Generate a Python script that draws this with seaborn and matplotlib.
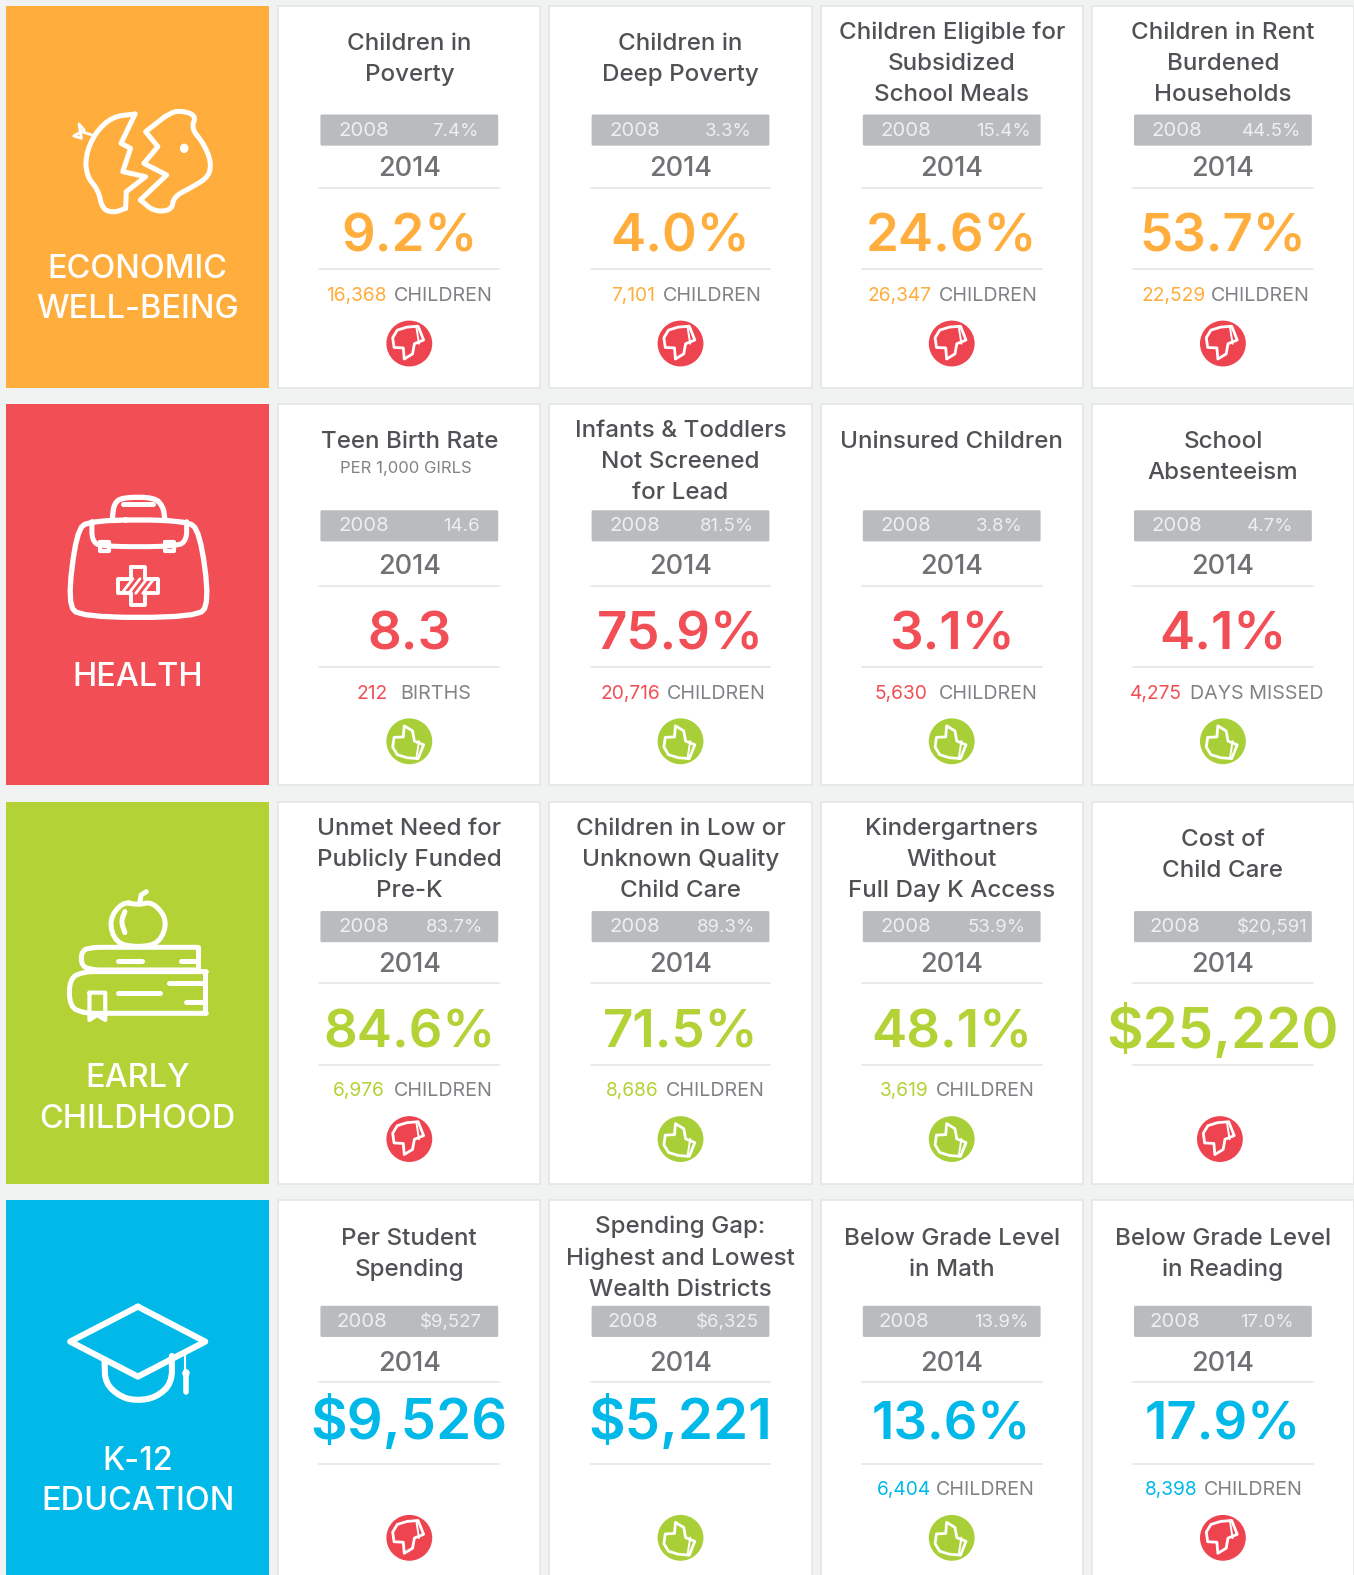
import matplotlib
matplotlib.use("Agg")
import matplotlib.pyplot as plt
from matplotlib.patches import Rectangle, FancyBboxPatch, Polygon, Ellipse
import pandas as pd
import seaborn as sns

####### values, one row per topic

tile_labels = [["ECONOMIC", "WELL-BEING"], ["HEALTH"], ["EARLY", "CHILDHOOD"], ["K-12", "EDUCATION"]]
tile_colors = ["#FFAD3C", "#F14E56", "#B2D235", "#00B9E8"]

card_titles = [
    [["Children in", "Poverty"], ["Children in", "Deep Poverty"],
     ["Children Eligible for", "Subsidized", "School Meals"], ["Children in Rent", "Burdened", "Households"]],
    [["Teen Birth Rate"], ["Infants & Toddlers", "Not Screened", "for Lead"],
     ["Uninsured Children"], ["School", "Absenteeism"]],
    [["Unmet Need for", "Publicly Funded", "Pre-K"], ["Children in Low or", "Unknown Quality", "Child Care"],
     ["Kindergartners", "Without", "Full Day K Access"], ["Cost of", "Child Care"]],
    [["Per Student", "Spending"], ["Spending Gap:", "Highest and Lowest", "Wealth Districts"],
     ["Below Grade Level", "in Math"], ["Below Grade Level", "in Reading"]],
]

values_2008 = [
    ["7.4%", "3.3%", "15.4%", "44.5%"],
    ["14.6", "81.5%", "3.8%", "4.7%"],
    ["83.7%", "89.3%", "53.9%", "$20,591"],
    ["$9,527", "$6,325", "13.9%", "17.0%"],
]
values_2014 = [
    ["9.2%", "4.0%", "24.6%", "53.7%"],
    ["8.3", "75.9%", "3.1%", "4.1%"],
    ["84.6%", "71.5%", "48.1%", "$25,220"],
    ["$9,526", "$5,221", "13.6%", "17.9%"],
]
count_numbers = [
    ["16,368", "7,101", "26,347", "22,529"],
    ["212", "20,716", "5,630", "4,275"],
    ["6,976", "8,686", "3,619", ""],
    ["", "", "6,404", "8,398"],
]
count_labels = [
    ["CHILDREN", "CHILDREN", "CHILDREN", "CHILDREN"],
    ["BIRTHS", "CHILDREN", "CHILDREN", "DAYS MISSED"],
    ["CHILDREN", "CHILDREN", "CHILDREN", ""],
    ["", "", "CHILDREN", "CHILDREN"],
]
verdicts = [
    ["down", "down", "down", "down"],
    ["up", "up", "up", "up"],
    ["down", "up", "up", "down"],
    ["down", "up", "up", "down"],
]

####### layout, in pixels of the picture

row_tops = [6, 402, 798, 1195]
row_bottoms = [386, 782, 1179, 1600]
card_lefts = [277, 547, 817, 1087]
card_w = 261
tile_left, tile_w = 6, 262
bar_offsets = [108, 106, 109, 105]
big_baselines = [244, 245, 245, 238]
count_num_x = [[48, 61, 47, 49], [78, 51, 54, 38], [54, 56, 59, 0], [0, 0, 56, 53]]
count_lab_x = [[115, 113, 118, 119], [121, 117, 118, 98], [115, 116, 115, 0], [0, 0, 115, 112]]
val_right_x = [[200, 201, 209, 208], [201, 204, 201, 201], [204, 205, 204, 215], [203, 208, 207, 201]]
tile_text_y = [[259, 299], [269], [273, 313], [257, 297]]

sns.set_theme(style="white")
plt.rcParams["font.family"] = ["Inter", "Lato", "DejaVu Sans"]

BG = "#F1F2F2"
TITLE = "#4F5154"
GREY = "#6F7174"
LABEL = "#808285"
BAR = "#B9BBBE"
RULE = "#E4E5E6"
THUMB = {"up": "#A9CF38", "down": "#EE4450"}

fig = plt.figure(figsize=(13.54, 15.75), dpi=100, facecolor=BG)
ax = fig.add_axes([0, 0, 1, 1])
ax.set_xlim(0, 1348)
ax.set_ylim(1568, 0)
ax.set_facecolor(BG)
ax.axis("off")


def line(xs, ys, lw=3.0, color="white", z=4):
    ax.plot(xs, ys, color=color, lw=lw, solid_capstyle="round", solid_joinstyle="round", zorder=z)


def smooth(pts, n=2, closed=False):
    # corner cutting so the icons do not look like polygons
    for _ in range(n):
        new = []
        m = len(pts) if closed else len(pts) - 1
        for i in range(m):
            a, b = pts[i], pts[(i + 1) % len(pts)]
            new.append((0.75 * a[0] + 0.25 * b[0], 0.75 * a[1] + 0.25 * b[1]))
            new.append((0.25 * a[0] + 0.75 * b[0], 0.25 * a[1] + 0.75 * b[1]))
        if not closed:
            new = [pts[0]] + new + [pts[-1]]
        pts = new
    return pts + [pts[0]] if closed else pts


def icon_line(pts, yoff, lw=3.6, soft=False, closed=False):
    if soft:
        pts = smooth(pts, closed=closed)
    elif closed:
        pts = pts + [pts[0]]
    line([p[0] / 2.863 for p in pts], [p[1] / 3.0135 + yoff for p in pts], lw=lw)


def piggy():
    y0 = 0
    icon_line([(385, 342), (320, 350), (270, 400), (243, 470), (248, 530), (280, 570), (292, 628),
               (325, 638), (358, 625)], y0, soft=True)
    icon_line([(385, 342), (345, 430), (372, 445), (350, 515), (415, 530), (360, 575), (358, 625)], y0)
    icon_line([(470, 350), (505, 330), (560, 345), (545, 385), (580, 430), (602, 485), (595, 530),
               (550, 560), (495, 590), (490, 630), (440, 635), (400, 600)], y0, soft=True)
    icon_line([(470, 350), (415, 395), (450, 440), (410, 490), (475, 525), (400, 600)], y0)
    icon_line([(262, 405), (232, 395), (210, 408), (232, 415), (225, 372), (240, 390)], y0, lw=2.0)
    ax.add_patch(Ellipse((525 / 2.863, 445 / 3.0135), 7, 8, color="white", zorder=4))


def bag():
    y0 = 400 / 1.0045
    icon_line([(255, 360), (530, 360), (570, 395), (597, 610), (560, 652), (230, 652), (193, 610),
               (218, 395)], y0, lw=3.8, soft=True, closed=True)
    icon_line([(320, 358), (325, 310), (350, 292), (440, 292), (465, 320), (470, 358)], y0, lw=3.8, soft=True)
    icon_line([(350, 312), (435, 312)], y0)
    icon_line([(262, 365), (262, 420), (285, 440), (505, 440), (532, 420), (532, 365)], y0, lw=3.6, soft=True)
    for cx in [298, 483]:
        icon_line([(cx - 14, 426), (cx + 14, 426), (cx + 14, 454), (cx - 14, 454)], y0, lw=3.0, closed=True)
    cx, cy, a, b = 393, 558, 20, 58
    icon_line([(cx - a, cy - b), (cx + a, cy - b), (cx + a, cy - a), (cx + b, cy - a), (cx + b, cy + a),
               (cx + a, cy + a), (cx + a, cy + b), (cx - a, cy + b), (cx - a, cy + a), (cx - b, cy + a),
               (cx - b, cy - a), (cx - a, cy - a)], y0, lw=2.8, closed=True)
    for d in [-30, -10, 10, 30]:
        icon_line([(cx + d - 16, cy + 22), (cx + d + 16, cy - 22)], y0, lw=2.0)


def books():
    y0 = 800 / 1.0045
    icon_line([(350, 305), (393, 315), (435, 305), (478, 360), (455, 430), (393, 442), (330, 430),
               (310, 360)], y0, lw=3.6, soft=True, closed=True)
    icon_line([(398, 312), (402, 285), (417, 275)], y0)
    icon_line([(356, 335), (345, 365), (356, 398)], y0, soft=True)
    icon_line([(563, 442), (300, 442), (270, 442), (232, 450), (232, 500), (270, 510), (300, 510), (563, 510)], y0, lw=3.6, soft=True)
    icon_line([(563, 442), (563, 510)], y0, lw=3.6)
    icon_line([(588, 515), (300, 515), (240, 515), (198, 535), (198, 620), (240, 640), (300, 640), (588, 640)], y0, lw=3.6, soft=True)
    icon_line([(583, 515), (583, 640)], y0, lw=3.6)
    icon_line([(335, 482), (405, 482)], y0)
    icon_line([(515, 482), (560, 482)], y0)
    icon_line([(335, 578), (455, 578)], y0)
    icon_line([(482, 550), (583, 550)], y0)
    icon_line([(530, 605), (583, 605)], y0)
    icon_line([(255, 578), (255, 660), (277, 645), (300, 660), (300, 578), (255, 578)], y0, lw=3.0)


def cap():
    y0 = 1190 / 1.0045
    icon_line([(393, 350), (585, 455), (393, 560), (200, 455)], y0, lw=4.4, closed=True)
    icon_line([(298, 515), (300, 580), (345, 622), (393, 632), (445, 622), (490, 580), (490, 498)], y0, lw=4.4, soft=True)
    icon_line([(528, 490), (528, 550)], y0, lw=1.5)
    icon_line([(530, 555), (530, 605)], y0, lw=4.0)
    ax.add_patch(Ellipse((530 / 2.863, 550 / 3.0135 + y0), 6, 7, color="white", zorder=4))


def thumb(cx, cy, kind):
    # the hand is the same shape, flipped up or down
    hand = [(-.52, -.45), (-.10, -.58), (.38, -.62), (.62, -.02), (.22, .14), (.14, .58), (-.22, .80),
            (-.26, .32), (-.66, .30), (-.72, -.12)]
    sign = 1 if kind == "down" else -1
    r = 23.0
    pts = [(cx + p[0] * r, cy + sign * p[1] * r + (-3 if kind == "down" else 3)) for p in hand]
    ax.add_patch(Polygon(pts, closed=True, facecolor=THUMB[kind], edgecolor="white", lw=2.0,
                         joinstyle="round", zorder=6))
    line([cx + .30 * r, cx + .42 * r], [pts[2][1], pts[4][1]], lw=1.4, z=7)


for r, top in enumerate(row_tops):
    bottom = row_bottoms[r]
    ax.add_patch(Rectangle((tile_left, top), tile_w, bottom - top, facecolor=tile_colors[r], edgecolor="none", zorder=1))
    for label, dy in zip(tile_labels[r], tile_text_y[r]):
        ax.text(137, top + dy + 11.5, label, color="white", fontsize=23.4, weight=500, ha="center", va="baseline", zorder=4)

    for c, left in enumerate(card_lefts):
        cx = left + card_w / 2
        ax.add_patch(Rectangle((left, top), card_w, bottom - top, facecolor="white", edgecolor="#E4E5E6", lw=1.2, zorder=1))

        lines = card_titles[r][c]
        ty = top + (24.5 if len(lines) == 3 else 35.5)
        for i, txt in enumerate(lines):
            ax.text(cx, ty + 31 * i + 8.5, txt, color=TITLE, fontsize=17.4, weight=500, ha="center", va="baseline", zorder=3)
        if r == 1 and c == 0:
            ax.text(cx - 3, top + 69, "PER 1,000 GIRLS", color=LABEL, fontsize=12, ha="center", va="baseline", zorder=3)

        by = top + bar_offsets[r]
        ax.add_patch(FancyBboxPatch((left + 42, by), 177, 31, boxstyle="round,pad=0,rounding_size=1.5",
                                    facecolor=BAR, edgecolor="none", zorder=2))
        year_x = left + (83 if (r == 3 or values_2008[r][c].startswith("$")) else 85)
        ax.text(year_x, by + 21, "2008", color="#EEEFEF", fontsize=14.6, ha="center", va="baseline", zorder=3)
        ax.text(left + val_right_x[r][c], by + 21, values_2008[r][c], color="#EEEFEF", fontsize=13.4, ha="right", va="baseline", zorder=3)

        ax.text(cx, top + 169.5, "2014", color=GREY, fontsize=19.5, weight=500, ha="center", va="baseline", zorder=3)
        rule_1 = top + 181
        ax.plot([left + 41, left + 220], [rule_1, rule_1], color=RULE, lw=1.2, zorder=2)
        rule_2 = top + 262
        ax.plot([left + 41, left + 220], [rule_2, rule_2], color=RULE, lw=1.2, zorder=2)

        big_size = 40.5 if values_2014[r][c].startswith("$") else 38
        ax.text(cx, top + big_baselines[r], values_2014[r][c], color=tile_colors[r], fontsize=big_size,
                weight=600, ha="center", va="baseline", zorder=3)

        if count_labels[r][c]:
            ax.text(left + count_num_x[r][c], top + 293.5, count_numbers[r][c], color=tile_colors[r], fontsize=13.8,
                    ha="left", va="baseline", zorder=3)
            ax.text(left + count_lab_x[r][c], top + 293.5, count_labels[r][c], color=LABEL, fontsize=14.2,
                    ha="left", va="baseline", zorder=3)

####### verdict circles go through seaborn, placed from the grid

rows = []
for r, top in enumerate(row_tops):
    for c, left in enumerate(card_lefts):
        shift = -3 if (r == 2 and c == 3) else 0
        rows.append({"x": left + card_w / 2 + shift, "y": top + 336, "verdict": verdicts[r][c]})
circles = pd.DataFrame(rows)
sns.scatterplot(data=circles, x="x", y="y", hue="verdict", palette=THUMB, s=1090, linewidth=0,
                legend=False, ax=ax, zorder=5, clip_on=False)
for row in circles.itertuples():
    thumb(row.x, row.y, row.verdict)

piggy()
bag()
books()
cap()

ax.set_xlim(0, 1348)
ax.set_ylim(1568, 0)
ax.axis("off")
fig.savefig("out.png", dpi=100, facecolor=BG)
